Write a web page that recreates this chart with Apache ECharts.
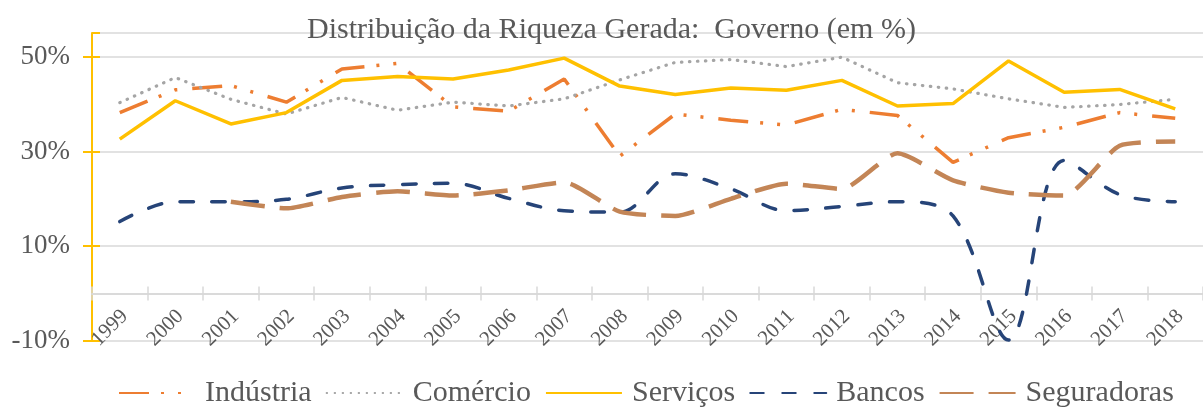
<!DOCTYPE html>
<html>
<head>
<meta charset="utf-8">
<script src="https://cdn.jsdelivr.net/npm/echarts@6/dist/echarts.min.js"></script>
<style>
html,body{margin:0;padding:0;background:#fff;}
#chart{width:1203px;height:407px;}
</style>
</head>
<body>
<div id="chart"></div>
<script>
const titleText = 'Distribuição da Riqueza Gerada:  Governo (em %)';
const years = ['1999','2000','2001','2002','2003','2004','2005','2006','2007','2008','2009','2010','2011','2012','2013','2014','2015','2016','2017','2018'];
const seriesNames = ['Indústria','Comércio','Serviços','Bancos','Seguradoras'];
const industria = [38.2, 43.0, 43.9, 40.4, 47.4, 48.6, 39.4, 38.5, 45.3, 29.0, 37.9, 36.6, 35.6, 38.9, 37.6, 27.7, 32.9, 35.1, 38.2, 37.0];
const comercio = [40.3, 45.6, 41.0, 37.9, 41.4, 38.7, 40.4, 39.6, 41.1, 45.1, 48.8, 49.4, 47.9, 49.9, 44.5, 43.2, 41.1, 39.3, 39.9, 41.0];
const servicos = [32.6, 40.7, 35.8, 38.2, 45.0, 45.8, 45.3, 47.2, 49.7, 43.8, 42.0, 43.4, 42.9, 45.0, 39.6, 40.1, 49.1, 42.5, 43.1, 39.0];
const bancos = [15.2, 19.4, 19.4, 19.9, 22.3, 23.0, 23.3, 20.1, 17.5, 17.2, 25.3, 22.1, 17.5, 18.4, 19.4, 16.4, -9.8, 28.1, 20.9, 19.4];
const seguradoras = [null, null, 19.4, 18.0, 20.4, 21.6, 20.7, 21.8, 23.5, 17.3, 16.4, 20.0, 23.2, 22.1, 29.6, 23.9, 21.3, 20.7, 31.2, 32.1];
const yMin = -10, yMax = 55, yStep = 20;

const font = 'Liberation Serif';
const txt = '#595959';
const grey = '#D9D9D9';
const gold = '#FFC000';

const chart = echarts.init(document.getElementById('chart'));
const yBase = {
  type: 'value', min: yMin, max: yMax, interval: yStep, position: 'left'
};
chart.setOption({
  animation: false,
  title: {
    text: titleText, left: 302, top: 10,
    textStyle: {fontFamily: font, fontSize: 30, fontWeight: 'normal', color: txt}
  },
  legend: {
    left: 113, top: 373, itemWidth: 76, itemHeight: 14, itemGap: 14,
    data: seriesNames,
    itemStyle: {opacity: 0},
    textStyle: {fontFamily: font, fontSize: 30, color: txt, padding: [0,0,0,5]}
  },
  grid: {left: 92, top: 33, width: 1119, bottom: 66, containLabel: false},
  xAxis: [{
    type: 'category', data: years, boundaryGap: true,
    axisLine: {onZero: true, lineStyle: {color: grey, width: 1.5}},
    axisTick: {show: true, length: 7, lineStyle: {color: grey, width: 1.5}},
    axisLabel: {interval: 0, rotate: 45, margin: -23, padding: [0, -7, 0, 0], fontFamily: font, fontSize: 21, color: txt},
    splitLine: {show: false}
  }, {
    type: 'category', data: years, boundaryGap: true, position: 'bottom',
    axisLine: {onZero: true, lineStyle: {color: grey, width: 1.5}},
    axisTick: {show: true, inside: true, length: 7, lineStyle: {color: grey, width: 1.5}},
    axisLabel: {show: false}, splitLine: {show: false}
  }],
  yAxis: [Object.assign({}, yBase, {
    axisLine: {show: true, onZero: false, lineStyle: {color: gold, width: 2}},
    axisTick: {show: true, length: 9, lineStyle: {color: gold, width: 2}},
    axisLabel: {margin: 22, fontFamily: font, fontSize: 27, color: txt, formatter: '{value}%'},
    splitLine: {show: true, lineStyle: {color: grey, width: 1.5}}
  }), Object.assign({}, yBase, {
    axisLine: {show: false},
    axisTick: {show: true, inside: true, length: 8, lineStyle: {color: gold, width: 2}},
    axisLabel: {show: false},
    splitLine: {show: false}
  })],
  series: [
    {name: seriesNames[0], type: 'line', data: industria, symbol: 'none',
     lineStyle: {color: '#ED7D31', width: 3.5, type: [30,12,3,14,3,15]}, itemStyle: {color: '#ED7D31'}},
    {name: seriesNames[1], type: 'line', data: comercio, symbol: 'none',
     lineStyle: {color: '#A5A5A5', width: 3.2, type: [0.5,7.5], cap: 'round'}, itemStyle: {color: '#A5A5A5'}},
    {name: seriesNames[2], type: 'line', data: servicos, symbol: 'none',
     lineStyle: {color: gold, width: 3.5}, itemStyle: {color: gold}},
    {name: seriesNames[3], type: 'line', data: bancos, symbol: 'none', smooth: 0.35,
     lineStyle: {color: '#264478', width: 3.5, type: [13.5,18.5], cap: 'round'}, itemStyle: {color: '#264478'}},
    {name: seriesNames[4], type: 'line', data: seguradoras, symbol: 'none', smooth: 0.2,
     lineStyle: {color: '#C38556', width: 4.5, type: [34,15]}, itemStyle: {color: '#C38556'}}
  ]
});
</script>
</body>
</html>
